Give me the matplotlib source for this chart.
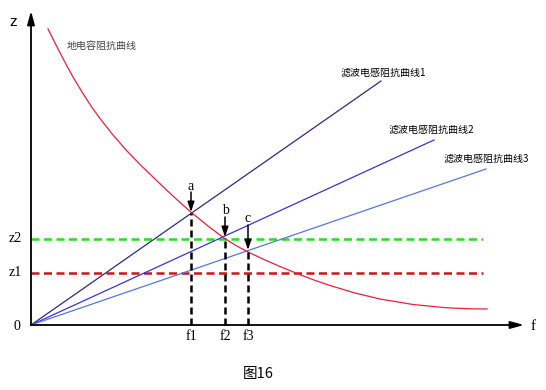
import matplotlib
matplotlib.use("Agg")
import matplotlib.pyplot as plt

# impedance curve of ground capacitance
cap_f = [0.17, 0.25, 0.33, 0.42, 0.51, 0.60, 0.69, 0.82, 0.96, 1.09, 1.22, 1.35, 1.49, 1.61, 1.77,
         1.93, 2.05, 2.17, 2.33, 2.49, 2.66, 2.83, 2.99, 3.24, 3.49, 3.82, 4.16, 4.39, 4.56]
cap_z = [2.96, 2.80, 2.645, 2.48, 2.33, 2.19, 2.065, 1.90, 1.74, 1.605, 1.48, 1.355, 1.225, 1.12, 0.99,
         0.87, 0.795, 0.73, 0.655, 0.585, 0.515, 0.45, 0.395, 0.32, 0.26, 0.205, 0.172, 0.162, 0.16]

# filter inductance lines: start at origin, end points
ind_f_end = [3.50, 4.03, 4.55]
ind_z_end = [2.44, 1.85, 1.56]
ind_names = ["滤波电感阻抗曲线1", "滤波电感阻抗曲线2", "滤波电感阻抗曲线3"]
ind_colors = ["#2b2b80", "#3535d5", "#5577e0"]

z_levels = [0.52, 0.86]
z_names = ["z1", "z2"]
z_colors = ["#cc1515", "#22e022"]
z_end = 4.52

f_marks = [1.60, 1.94, 2.17]
f_tops = [1.12, 0.87, 0.74]
f_names = ["f1", "f2", "f3"]
pt_names = ["a", "b", "c"]
arrow_from = [1.33, 1.08, 1.00]
label_z = [1.39, 1.14, 1.06]

fig = plt.figure(figsize=(5.46, 3.90), dpi=100)
ax = fig.add_axes([0, 0, 1, 1])
ax.set_xlim(-0.31, 5.15)
ax.set_ylim(-0.65, 3.25)
ax.axis("off")

cjk = ["Noto Sans CJK SC", "DejaVu Sans"]
serif = "Liberation Serif"

# axes with arrows
ax.annotate("", xy=(4.93, 0), xytext=(0, 0),
            arrowprops=dict(arrowstyle="-|>,head_length=0.8,head_width=0.22", color="black", lw=1.3,
                            shrinkA=0, shrinkB=0))
ax.annotate("", xy=(0, 3.14), xytext=(0, 0),
            arrowprops=dict(arrowstyle="-|>,head_length=0.8,head_width=0.22", color="black", lw=1.3,
                            shrinkA=0, shrinkB=0))
ax.text(5.02, -0.01, "f", fontsize=11, family=serif, va="center", ha="center")
ax.text(-0.18, 3.03, "z", fontsize=11, family="Liberation Sans", va="center", ha="center")
ax.text(-0.14, -0.02, "0", fontsize=10, family=serif, va="center", ha="center")

# horizontal dashed levels
for lvl, name, col in zip(z_levels, z_names, z_colors):
    ax.plot([0, z_end], [lvl, lvl], color=col, lw=1.8, dashes=(3.2, 1.8))
    ax.text(-0.16, lvl, name, fontsize=10, family=serif, va="center", ha="center")

# inductance lines
for fe, ze, col in zip(ind_f_end, ind_z_end, ind_colors):
    ax.plot([0, fe], [0, ze], color=col, lw=0.9)
ax.text(3.10, 2.52, ind_names[0], fontsize=7.2, family=cjk, va="center")
ax.text(3.58, 1.95, ind_names[1], fontsize=7.2, family=cjk, va="center")
ax.text(4.13, 1.66, ind_names[2], fontsize=7.2, family=cjk, va="center")

# capacitance curve
ax.plot(cap_f, cap_z, color="#e8203a", lw=0.9)
ax.text(0.36, 2.79, "地电容阻抗曲线", fontsize=7.2, family=cjk, color="#444444", va="center")

# vertical dashed markers and arrows
for fm, ft, fn, pn, a0, lz in zip(f_marks, f_tops, f_names, pt_names, arrow_from, label_z):
    ax.plot([fm, fm], [0, ft], color="black", lw=1.8, dashes=(2.8, 1.6))
    ax.text(fm, -0.12, fn, fontsize=10, family=serif, va="center", ha="center")
    ax.annotate("", xy=(fm, ft + 0.01), xytext=(fm, a0),
                arrowprops=dict(arrowstyle="-|>,head_length=0.6,head_width=0.2", color="black", lw=1.1,
                                shrinkA=0, shrinkB=0))
    ax.text(fm, lz, pn, fontsize=10, family=serif, va="center", ha="center")

ax.text(2.27, -0.49, "图16", fontsize=10.5, family=cjk, va="center", ha="center")

fig.savefig("out.png", dpi=100)
